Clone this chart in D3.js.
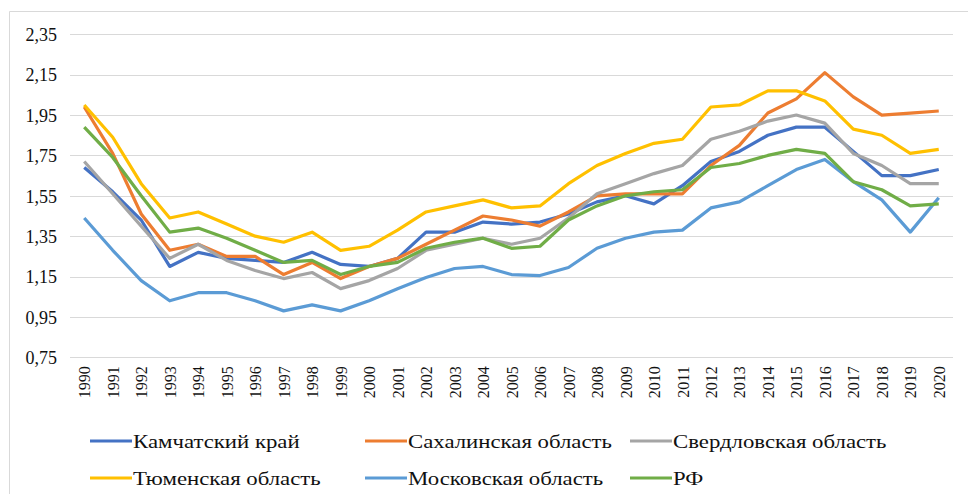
<!DOCTYPE html>
<html>
  <head>
    <meta charset="utf-8">
    <script src="https://cdn.jsdelivr.net/npm/d3@7"></script>
    <style>
      body { margin: 0; background: #fff; }
    </style>
  </head>
  <body>
    <svg id="chart" width="968" height="494"></svg>
    <script>
    var years = d3.range(1990, 2021).map(String);
    var yTicks = [0.75, 0.95, 1.15, 1.35, 1.55, 1.75, 1.95, 2.15, 2.35];

    var kamchatka = [1.69,1.57,1.43,1.20,1.27,1.24,1.23,1.22,1.27,1.21,1.20,1.24,1.37,1.37,1.42,1.41,1.42,1.46,1.52,1.55,1.51,1.60,1.72,1.77,1.85,1.89,1.89,1.77,1.65,1.65,1.68];
    var sakhalin  = [1.99,1.76,1.46,1.28,1.31,1.25,1.25,1.16,1.22,1.14,1.20,1.24,1.31,1.38,1.45,1.43,1.40,1.47,1.55,1.56,1.56,1.56,1.70,1.80,1.96,2.03,2.16,2.04,1.95,1.96,1.97];
    var sverdlovsk = [1.72,1.56,1.40,1.24,1.31,1.23,1.18,1.14,1.17,1.09,1.13,1.19,1.28,1.31,1.34,1.31,1.34,1.44,1.56,1.61,1.66,1.70,1.83,1.87,1.92,1.95,1.91,1.76,1.70,1.61,1.61];
    var tyumen    = [2.00,1.84,1.61,1.44,1.47,1.41,1.35,1.32,1.37,1.28,1.30,1.38,1.47,1.50,1.53,1.49,1.50,1.61,1.70,1.76,1.81,1.83,1.99,2.00,2.07,2.07,2.02,1.88,1.85,1.76,1.78];
    var moscow    = [1.44,1.28,1.13,1.03,1.07,1.07,1.03,0.98,1.01,0.98,1.03,1.09,1.145,1.19,1.20,1.16,1.155,1.195,1.29,1.34,1.37,1.38,1.49,1.52,1.60,1.68,1.73,1.62,1.53,1.37,1.54];
    var rf        = [1.89,1.74,1.55,1.37,1.39,1.34,1.28,1.22,1.23,1.16,1.20,1.22,1.29,1.32,1.34,1.29,1.30,1.43,1.50,1.55,1.57,1.58,1.69,1.71,1.75,1.78,1.76,1.62,1.58,1.50,1.51];

    var series = [
      { name: "Камчатский край", values: kamchatka, color: "#4472c4" },
      { name: "Сахалинская область", values: sakhalin, color: "#ed7d31" },
      { name: "Свердловская область", values: sverdlovsk, color: "#a5a5a5" },
      { name: "Тюменская область", values: tyumen, color: "#ffc000" },
      { name: "Московская область", values: moscow, color: "#5b9bd5" },
      { name: "РФ", values: rf, color: "#70ad47" }
    ];

    var svg = d3.select("#chart");

    // outer frame (only left and top edges visible)
    svg.append("path")
      .attr("d", "M9.5,494V11.5H968")
      .attr("fill", "none")
      .attr("stroke", "#d9d9d9");

    var x = d3.scalePoint().domain(years).range([70, 953]).padding(0.5);
    var y = d3.scaleLinear().domain([0.75, 2.35]).range([357.3, 34.3]);

    // grid
    svg.append("g")
      .selectAll("line")
      .data(yTicks)
      .enter().append("line")
      .attr("x1", 70).attr("x2", 953)
      .attr("y1", function(d){ return Math.round(y(d)) + 0.5; })
      .attr("y2", function(d){ return Math.round(y(d)) + 0.5; })
      .attr("stroke", "#d9d9d9");

    var yAxis = svg.append("g")
      .attr("transform", "translate(70,0)")
      .call(d3.axisLeft(y).tickValues(yTicks).tickSize(0).tickPadding(13)
        .tickFormat(function(d){ return d3.format(".2f")(d).replace(".", ","); }));
    yAxis.select(".domain").remove();
    yAxis.selectAll("text")
      .attr("font-family", "Liberation Serif")
      .attr("font-size", 18)
      .attr("fill", "#111")
      .attr("dy", "0.35em");

    var xAxis = svg.append("g")
      .attr("transform", "translate(0,357.3)")
      .call(d3.axisBottom(x).tickSize(0).tickPadding(0));
    xAxis.select(".domain").remove();
    xAxis.selectAll("text")
      .attr("font-family", "Liberation Serif")
      .attr("font-size", 16)
      .attr("fill", "#111")
      .attr("text-anchor", "end")
      .attr("transform", "rotate(-90)")
      .attr("x", -9)
      .attr("y", 0)
      .attr("dy", "0.35em");

    var line = d3.line()
      .x(function(d, i){ return x(years[i]); })
      .y(function(d){ return y(d); });

    svg.append("g")
      .selectAll("path")
      .data(series)
      .enter().append("path")
      .attr("d", function(s){ return line(s.values); })
      .attr("fill", "none")
      .attr("stroke", function(s){ return s.color; })
      .attr("stroke-width", 3.2)
      .attr("stroke-linejoin", "round");

    // legend (text is a bit stretched sideways in the source, hence the scale)
    var legendCols = [90, 365, 630], legendRows = [441, 478];
    var legend = svg.append("g")
      .selectAll("g")
      .data(series)
      .enter().append("g")
      .attr("transform", function(s, i){
        return "translate(" + legendCols[i % 3] + "," + legendRows[Math.floor(i / 3)] + ")";
      });
    legend.append("line")
      .attr("x1", 0).attr("x2", 42)
      .attr("stroke", function(s){ return s.color; })
      .attr("stroke-width", 3.2);
    legend.append("text")
      .attr("transform", "translate(43,0) scale(1.2,1)")
      .attr("dy", "0.35em")
      .attr("font-family", "Liberation Serif")
      .attr("font-size", 19)
      .attr("fill", "#111")
      .text(function(s){ return s.name; });
    </script>
  </body>
</html>
